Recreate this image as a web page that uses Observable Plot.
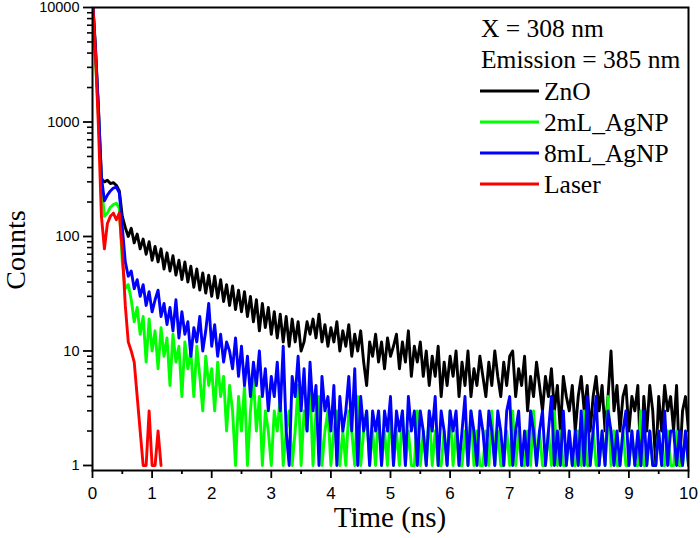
<!DOCTYPE html>
<html>
<head>
<meta charset="utf-8">
<script src="https://cdn.jsdelivr.net/npm/d3@7"></script>
<script src="https://cdn.jsdelivr.net/npm/@observablehq/plot@0.6"></script>
<style>
  body { margin: 0; background: #fff; }
  #chart svg { display: block; background: #fff; }
</style>
</head>
<body>
<div id="chart"></div>
<script>
// ---- data (counts; time step 0.05 ns) ----
const timeStep = 0.05;
const seriesNames = ["ZnO", "2mL_AgNP", "8mL_AgNP", "Laser"];
const seriesColors = ["#000000", "#00ff00", "#0000ff", "#ff0000"];
const legendHeader = ["X = 308 nm", "Emission = 385 nm"];
const xTitle = "Time (ns)";
const yTitle = "Counts";
const xTicks = [0, 1, 2, 3, 4, 5, 6, 7, 8, 9, 10];
const xMinorTicks = [0.5, 1.5, 2.5, 3.5, 4.5, 5.5, 6.5, 7.5, 8.5, 9.5];
const yTicks = [1, 10, 100, 1000, 10000];
const yMinorTicks = [2,3,4,5,6,7,8,9, 20,30,40,50,60,70,80,90, 200,300,400,500,600,700,800,900, 2000,3000,4000,5000,6000,7000,8000,9000];

const znoCounts = [
  12000,4500,1300,320,300,310,290,295,280,250,
  150,120,100,118,88,105,78,95,70,90,
  62,82,60,78,52,72,50,68,46,62,
  42,60,40,55,36,52,34,48,32,46,
  30,45,29,42,27,38,25,37,23,34,
  22,33,20,30,18,28,15,26,16,24,
  14,22,13,21,12,20,11,19,12,18,
  10,12,18,14,19,13,21,12,17,11,
  16,12,18,10,15,11,17,9,14,10,
  15,8,5,12,9,14,8,12,7,13,
  9,11,14,7,12,8,15,6,11,8,
  12,6,10,5,9,6,11,4,8,5,
  9,6,10,4,8,5,10,4,7,5,
  9,6,4,8,5,10,6,4,8,5,
  9,10,4,7,5,9,3,6,4,8,
  5,3,6,4,7,3,5,2,6,4,
  3,5,2,4,6,3,5,2,4,6,
  3,5,2,4,10,3,5,2,4,5,
  2,4,3,5,1,4,2,5,3,1,
  4,2,5,3,4,2,5,1,3,4,
  2
];
const ag2Counts = [
  5800,3500,1100,280,150,160,180,190,195,175,
  60,35,38,28,18,24,14,20,8,19,
  10,15,7,16,9,13,5,14,8,11,
  4,12,7,10,4,11,6,3,9,5,
  7,3,8,4,6,2,5,3,1,4,
  2,5,1,3,6,2,4,1,3,2,
  1,3,2,4,1,2,3,1,2,5,
  1,3,2,5,1,3,4,1,2,3,
  1,2,3,1,2,1,3,2,1,4,
  1,2,3,1,2,1,3,1,2,1,
  3,1,2,1,3,1,2,1,1,3,
  1,2,1,3,1,2,1,1,2,1,
  3,1,2,1,1,2,1,3,1,2,
  1,1,2,1,3,1,2,1,1,2,
  1,3,1,2,1,1,2,1,3,1,
  2,1,1,2,1,3,1,2,1,1,
  2,1,1,2,1,3,1,1,2,1,
  1,2,1,4,1,2,1,1,2,1,
  1,2,1,1,3,1,1,2,1,1,
  2,1,1,2,1,1,2,1,1,2,
  1
];
const ag8Counts = [
  12000,4200,1300,330,205,230,250,265,270,240,
  120,60,45,50,35,42,30,38,25,33,
  22,28,34,20,26,17,24,15,28,13,
  22,14,18,9,16,12,20,10,15,26,
  11,17,9,14,8,12,10,7,13,6,
  11,5,9,4,8,5,10,4,7,3,
  6,4,8,3,11,2,1,6,4,9,
  3,7,2,8,3,5,1,6,3,4,
  2,5,1,4,2,3,6,2,7,1,
  4,2,3,1,3,2,3,1,3,2,
  4,1,3,2,3,1,4,2,3,1,
  3,2,1,3,2,4,1,3,2,1,
  3,2,3,1,2,4,1,3,2,1,
  3,2,1,3,2,1,3,2,1,3,
  4,1,2,3,1,2,1,3,2,1,
  2,3,1,2,4,1,2,1,3,1,
  2,1,2,1,3,1,4,1,2,4,
  1,2,1,3,2,1,2,1,2,3,
  1,2,1,2,1,3,1,2,1,1,
  2,1,3,1,2,2,1,2,1,2,
  1
];
const laserCounts = [
  12000,4000,900,150,78,130,150,160,140,160,
  75,25,12,10,8,4,2,1,1,3,
  1,1,2,1
];

const allCounts = [znoCounts, ag2Counts, ag8Counts, laserCounts];
const rows = allCounts.flatMap((arr, s) =>
  arr.map((c, i) => ({t: i * timeStep, c, s: seriesNames[s]})));

const serif = "Liberation Serif, Times New Roman, serif";
const sans = "Liberation Sans, Arial, sans-serif";

const chart = Plot.plot({
  width: 700,
  height: 538,
  marginLeft: 92,
  marginRight: 12,
  marginTop: 7,
  marginBottom: 68,
  style: {background: "#fff", color: "#000"},
  x: {domain: [0, 10], axis: null},
  y: {type: "log", domain: [0.904, 10000], axis: null},
  marks: [
    ...seriesNames.map((name, s) =>
      Plot.line(rows.filter(d => d.s === name), {
        x: "t", y: "c", stroke: seriesColors[s], strokeWidth: 2.9,
        strokeLinejoin: "round", clip: true
      })),
    Plot.frame({stroke: "#000", strokeWidth: 2}),
    Plot.axisX({ticks: xTicks, tickSize: 8, tickPadding: 8, strokeWidth: 1.8,
      fontSize: 17, fontFamily: sans, label: null, tickFormat: d => String(d)}),
    Plot.axisX({ticks: xMinorTicks, tickSize: 4, strokeWidth: 1.8, text: null, label: null}),
    Plot.axisY({ticks: yTicks, tickSize: 9, tickPadding: 4, strokeWidth: 1.8,
      fontSize: 14.5, fontFamily: sans, label: null, tickFormat: d => String(d)}),
    Plot.axisY({ticks: yMinorTicks, tickSize: 5, strokeWidth: 1.6, text: null, label: null})
  ]
});

document.getElementById("chart").appendChild(chart);

const svg = d3.select(chart);

// axis titles
svg.append("text")
  .attr("x", 390).attr("y", 527)
  .attr("text-anchor", "middle")
  .attr("font-family", serif).attr("font-size", 29).attr("fill", "#000")
  .text(xTitle);
svg.append("text")
  .attr("transform", "translate(25,250) rotate(-90)")
  .attr("text-anchor", "middle")
  .attr("font-family", serif).attr("font-size", 28).attr("fill", "#000")
  .text(yTitle);

// legend inside the plot, top right
const lg = svg.append("g")
  .attr("font-family", serif).attr("font-size", 25.5)
  .attr("fill", "#000").attr("text-anchor", "start");
legendHeader.forEach((txt, i) => {
  lg.append("text").attr("x", 481).attr("y", 37 + i * 31).text(txt);
});
seriesNames.forEach((name, i) => {
  const y = 91 + i * 31;
  lg.append("line").attr("x1", 480).attr("x2", 539).attr("y1", y).attr("y2", y)
    .attr("stroke", seriesColors[i]).attr("stroke-width", 3);
  lg.append("text").attr("x", 544).attr("y", y + 9).text(name);
});
</script>
</body>
</html>
